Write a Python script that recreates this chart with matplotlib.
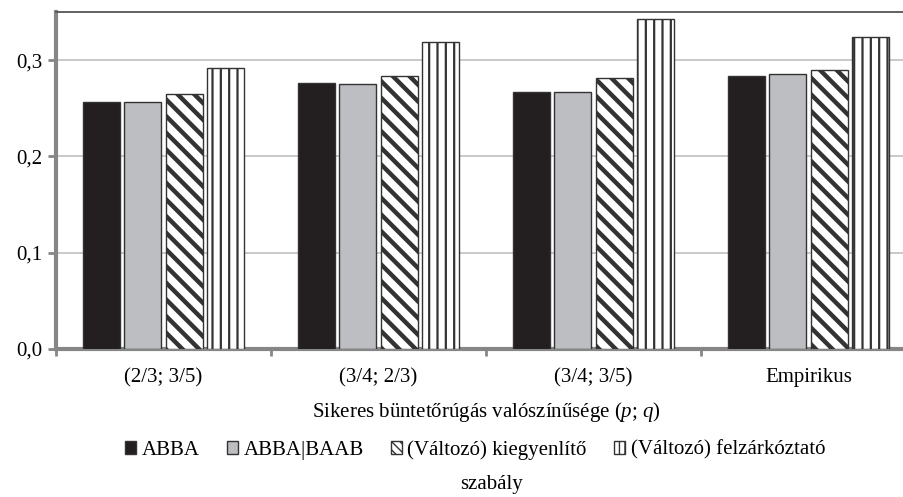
import matplotlib
matplotlib.use("Agg")
import matplotlib.pyplot as plt
from matplotlib.patches import Patch
import numpy as np

plt.rcParams['font.family'] = ['Liberation Serif', 'DejaVu Serif']
plt.rcParams['font.size'] = 15
plt.rcParams['mathtext.fontset'] = 'custom'
plt.rcParams['mathtext.rm'] = 'Liberation Serif'
plt.rcParams['mathtext.it'] = 'Liberation Serif:italic'
plt.rcParams['hatch.color'] = '#1a1a1a'

categories = ['(2/3; 3/5)', '(3/4; 2/3)', '(3/4; 3/5)', 'Empirikus']
series_names = ['ABBA', 'ABBA|BAAB', '(Változó) kiegyenlítő', '(Változó) felzárkóztató']
abba = [0.257, 0.276, 0.267, 0.284]
abba_baab = [0.257, 0.275, 0.267, 0.286]
kiegyenlito = [0.265, 0.284, 0.281, 0.290]
felzarkozato = [0.292, 0.319, 0.343, 0.324]
yticks = [0.0, 0.1, 0.2, 0.3]
ytick_labels = ['0,0', '0,1', '0,2', '0,3']

series = [abba, abba_baab, kiegyenlito, felzarkozato]
fills = ['#231f20', '#bdbec1', 'white', 'white']
hatches = [None, None, '\\\\', '||']
legend_hatches = [None, None, '\\\\\\\\', '|||']
hatch_lw = [1.0, 1.0, 3.2, 1.6]
hatch_col = ['#231f20', '#231f20', '#111111', '#444444']

fig = plt.figure(figsize=(9.04, 4.97), dpi=100)
ax = fig.add_axes([56 / 904, 148 / 497, 860 / 904, 337 / 497])

x = np.arange(len(categories))
pitch = 0.192
width = 0.172
handles = []
for i, vals in enumerate(series):
    off = (i - 1.5) * pitch
    bars = ax.bar(x + off, vals, width, color=fills[i], edgecolor='#333333',
                  linewidth=1.0, hatch=hatches[i], zorder=3)
    for b in bars:
        if hasattr(b, 'set_hatch_linewidth'):
            b.set_hatch_linewidth(hatch_lw[i])
        if hasattr(b, 'set_hatchcolor'):
            b.set_hatchcolor(hatch_col[i])
    h = Patch(facecolor=fills[i], edgecolor='#333333', linewidth=1.0,
              hatch=legend_hatches[i])
    if hasattr(h, 'set_hatch_linewidth'):
        h.set_hatch_linewidth(1.5 if i == 2 else 1.0)
    handles.append(h)

ax.set_xlim(-0.5, len(categories) - 0.5)
ax.set_ylim(0, 0.35)
ax.set_yticks(yticks)
ax.set_yticklabels(ytick_labels)
ax.set_xticks(x)
ax.set_xticklabels(categories)
ax.set_xticks(np.arange(len(categories) + 1) - 0.5, minor=True)
ax.tick_params(axis='x', which='major', length=0, pad=14)
ax.tick_params(axis='x', which='minor', length=5, width=2, color='#868686')
ax.tick_params(axis='y', length=6, width=2, color='#868686', pad=4)

ax.grid(axis='y', color='#c0c0c0', linewidth=1.2, zorder=0)
ax.set_axisbelow(True)
for s in ['left', 'bottom']:
    ax.spines[s].set_color('#868686')
    ax.spines[s].set_linewidth(3)
ax.spines['top'].set_color('#555555')
ax.spines['top'].set_linewidth(1.3)
ax.spines['right'].set_visible(False)

ax.set_xlabel('Sikeres büntetőrúgás valószínűsége ($\\it{p}$; $\\it{q}$)', labelpad=9)

fig.legend(handles, series_names, loc='center', bbox_to_anchor=(475 / 904, 1 - 450 / 497),
           ncol=4, frameon=False, handlelength=0.55, handleheight=0.55,
           handletextpad=0.25, columnspacing=1.3, borderpad=0)
fig.text(492 / 904, 1 - 485 / 497, 'szabály', ha='center', va='center')

fig.savefig('out.png', dpi=100)
